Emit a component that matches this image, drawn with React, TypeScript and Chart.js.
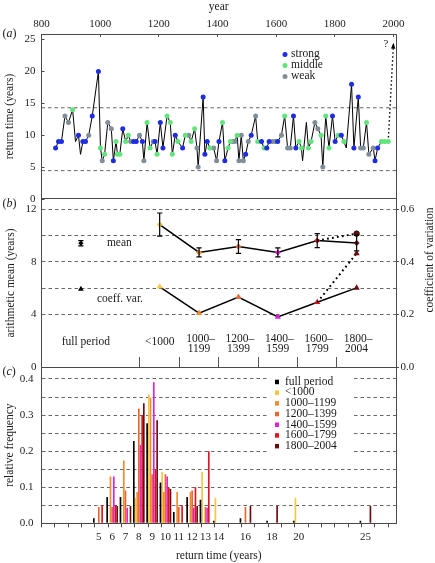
import React, { useEffect, useRef } from 'react';
import { Chart, registerables } from 'chart.js';

Chart.register(...registerables);

const SERIF = '"Liberation Serif", "Times New Roman", "DejaVu Serif", serif';
const W = 435;
const H = 563;
const INK = '#1a1a1a';
const AXIS = '#4a4a4a';
const DASH = '#666';

// ---------- panel (a): return time of each event ----------
const eventYears = [
  848, 858, 868, 880, 892, 906, 916, 926, 933, 941,
  950, 961, 973, 994, 1001, 1007, 1015, 1026, 1038, 1045,
  1054, 1059, 1067, 1077, 1087, 1096, 1104, 1114, 1123, 1134,
  1144, 1149, 1160, 1170, 1181, 1187, 1194, 1205, 1214, 1228,
  1239, 1246, 1256, 1265, 1281, 1290, 1302, 1310, 1322, 1330,
  1334, 1351, 1357, 1365, 1374, 1387, 1397, 1405, 1417, 1425,
  1436, 1444, 1452, 1459, 1467, 1473, 1481, 1488, 1496, 1505,
  1515, 1530, 1537, 1550, 1559, 1568, 1576, 1587, 1597, 1605,
  1618, 1629, 1639, 1648, 1659, 1667, 1678, 1686, 1690, 1703,
  1710, 1719, 1732, 1742, 1753, 1759, 1769, 1780, 1792, 1801,
  1811, 1822, 1831, 1839, 1857, 1865, 1880, 1888, 1897, 1908,
  1916, 1931, 1937, 1946, 1959, 1970, 1982,
];
const eventReturnTimes = [
  8, 9, 9, 13, 12, 14, 9, 10, 7, 9,
  9, 10, 13, 20, 8, 6, 7, 12, 11, 6,
  9, 7, 7, 11, 9, 10, 9, 9, 9, 10,
  9, 6, 12, 8, 9, 9, 7, 12, 8, 13,
  12, 7, 10, 9, 8, 10, 10, 9, 11, 8,
  5, 16, 7, 9, 8, 8, 6, 9, 12, 6,
  8, 9, 9, 9, 10, 6, 10, 6, 7, 9,
  10, 13, 9, 9, 8, 8, 9, 9, 9, 9,
  10, 13, 8, 8, 13, 8, 9, 8, 6, 12,
  8, 9, 12, 11, 10, 5, 13, 8, 13, 9,
  10, 10, 9, 8, 18, 8, 16, 8, 8, 12,
  7, 8, 6, 8, 9, 9, 9,
];
// s = strong, m = middle, w = weak, n = not classified
const eventStrength = [
  'ssswwmnsns', 'swssmwmwws', 'mmmsmmwssw', 'swmmwsmssm', 'mmsmsmwmmw',
  'wsssmwwsms', 'mmwwmwwwsw', 'swmsmsswws', 'wmwwssmmnn', 'mmwwmwmmss',
  'msmnssswwm', 'wwssmmm',
].join('').split('');
const strengthCodes = ['s', 'm', 'w'];
const strengthLabels = ['strong', 'middle', 'weak'];
const strengthColors = ['#1f2de0', '#62e47c', '#7f8e98'];
const referenceLevels = [14.3, 4.45];
const pendingEventYear = 2000;
const pendingEventReturn = 24.5;
const yearTicks = [800, 1000, 1200, 1400, 1600, 1800, 2000];
const returnTicks = [0, 5, 10, 15, 20, 25];
const yearAxisMin = 800;
const yearAxisMax = 2008.5;
const returnAxisMax = 25.86;

// ---------- panel (b): statistics per period ----------
const periodNames = ['<1000', '1000–1199', '1200–1399', '1400–1599', '1600–1799', '1800–2004'];
const periodColors = ['#f6c640', '#f28b2c', '#e8672f', '#e020dc', '#e3121c', '#6a0d0d'];
const periodMeans = [10.84, 8.72, 9.17, 8.72, 9.62, 9.43];
const periodMeanErr = [0.88, 0.34, 0.53, 0.34, 0.53, 0.6];
const periodCV = [0.305, 0.205, 0.266, 0.19, 0.246, 0.301];
const fullPeriodMean = 9.42;
const fullPeriodMeanErr = 0.2;
const fullPeriodCV = 0.296;
const lastPeriodAltMean = 10.15;
const lastPeriodAltCV = 0.432;
const meanTicks = [0, 2, 4, 6, 8, 10, 12];
const meanTickLabels = [0, 4, 8, 12];
const cvTicks = [0, 0.2, 0.4, 0.6];
const FULL_SLOT = 0;
const FIRST_PERIOD_SLOT = 2;

// ---------- panel (c): histogram of return times ----------
const returnTimeBins = [5, 6, 7, 8, 9, 10, 11, 12, 13, 14, 16, 18, 20, 25];
const freqFullPeriod = [0.014, 0.073, 0.073, 0.228, 0.277, 0.113, 0.031, 0.073, 0.065, 0.007, 0.014, 0.007, 0.007, 0.007];
const freqBefore1000 = [null, null, null, 0.071, 0.357, 0.143, null, null, 0.143, 0.071, null, null, 0.071, null];
const freq1000to1199 = [null, 0.13, 0.174, 0.087, 0.348, 0.087, 0.087, 0.087, null, null, null, null, null, null];
const freq1200to1399 = [0.045, 0.045, 0.091, 0.318, 0.136, 0.136, 0.045, 0.091, 0.045, null, 0.045, null, null, null];
const freq1400to1599 = [null, 0.13, 0.043, 0.217, 0.391, 0.13, null, 0.043, 0.043, null, null, null, null, null];
const freq1600to1799 = [0.05, 0.05, null, 0.3, 0.15, 0.1, 0.05, 0.1, 0.2, null, null, null, null, null];
const freq1800to2004 = [null, 0.048, 0.048, 0.333, 0.286, 0.095, null, 0.048, null, null, 0.048, 0.048, null, 0.048];
const histSeriesLabels = ['full period', ...periodNames];
const histSeriesColors = ['#000000', ...periodColors];
const histTickLabels = [5, 6, 7, 8, 9, 10, 11, 12, 13, 14, 16, 18, 20, 25];
const freqTicks = [0, 0.05, 0.1, 0.15, 0.2, 0.25, 0.3, 0.35, 0.4];
const histTickCount = 27;
const histGroupShift = 0.3;

// ---------- layout (pixels) ----------
const PLOT_LEFT = 41.5;
const PLOT_RIGHT = 396;
const A_TOP = 34;
const A_BOTTOM = 199;
const B_BOTTOM = 367;
const C_BOTTOM = 523.3;

Chart.defaults.font.family = SERIF;
Chart.defaults.color = '#222';

const tickFont = { family: SERIF, size: 11 };
const titleFont = { family: SERIF, size: 11.5 };

const setTicks = (values: number[]) => (s: any) => {
  s.ticks = values.map((v) => ({ value: v }));
};

function drawTag(ctx: CanvasRenderingContext2D, letter: string, x: number, y: number) {
  ctx.textBaseline = 'middle';
  ctx.textAlign = 'left';
  ctx.fillStyle = INK;
  ctx.font = `12px ${SERIF}`;
  ctx.fillText('(', x, y);
  let w = ctx.measureText('(').width;
  ctx.font = `italic 12px ${SERIF}`;
  ctx.fillText(letter, x + w, y);
  w += ctx.measureText(letter).width;
  ctx.font = `12px ${SERIF}`;
  ctx.fillText(')', x + w, y);
}

function configA(): any {
  const points = eventYears.map((yr, i) => ({ x: yr, y: eventReturnTimes[i] }));
  const last = points[points.length - 1];
  const strengthSets = strengthCodes.map((code, si) => ({
    type: 'scatter',
    label: strengthLabels[si],
    data: points.filter((_, i) => eventStrength[i] === code),
    backgroundColor: strengthColors[si],
    borderColor: strengthColors[si],
    pointRadius: 2.5,
    pointBorderWidth: 0,
    showLine: false,
    order: 1,
  }));
  const plugin = {
    id: 'panelA',
    afterDraw(chart: any) {
      const { ctx, chartArea: a, scales } = chart;
      ctx.save();
      ctx.strokeStyle = AXIS;
      ctx.lineWidth = 1;
      ctx.beginPath();
      ctx.moveTo(Math.round(a.right) + 0.5, a.top);
      ctx.lineTo(Math.round(a.right) + 0.5, a.bottom);
      ctx.moveTo(a.left, a.bottom - 0.5);
      ctx.lineTo(a.right + 1, a.bottom - 0.5);
      ctx.stroke();
      // arrow head of the pending event
      const x0 = scales.x.getPixelForValue(last.x);
      const y0 = scales.y.getPixelForValue(last.y);
      const x1 = scales.x.getPixelForValue(pendingEventYear);
      const y1 = scales.y.getPixelForValue(pendingEventReturn);
      const ang = Math.atan2(y1 - y0, x1 - x0);
      ctx.fillStyle = '#000';
      ctx.beginPath();
      ctx.moveTo(x1, y1);
      ctx.lineTo(x1 - 6 * Math.cos(ang) + 2.2 * Math.sin(ang), y1 - 6 * Math.sin(ang) - 2.2 * Math.cos(ang));
      ctx.lineTo(x1 - 6 * Math.cos(ang) - 2.2 * Math.sin(ang), y1 - 6 * Math.sin(ang) + 2.2 * Math.cos(ang));
      ctx.closePath();
      ctx.fill();
      ctx.font = `11px ${SERIF}`;
      ctx.textAlign = 'center';
      ctx.textBaseline = 'middle';
      ctx.fillStyle = INK;
      ctx.fillText('?', x1 - 7.5, y1 + 1);
      // legend
      ctx.font = `11.5px ${SERIF}`;
      ctx.textAlign = 'left';
      strengthLabels.forEach((lab, i) => {
        const ly = 54 + i * 11;
        ctx.fillStyle = strengthColors[i];
        ctx.beginPath();
        ctx.arc(285, ly + 0.5, 2.5, 0, Math.PI * 2);
        ctx.fill();
        ctx.fillStyle = INK;
        ctx.fillText(lab, 291, ly);
      });
      drawTag(ctx, 'a', 2.5, 34);
      ctx.restore();
    },
  };
  return {
    type: 'scatter',
    data: {
      datasets: [
        ...strengthSets,
        {
          label: 'events',
          data: points,
          showLine: true,
          borderColor: '#000',
          borderWidth: 1,
          pointRadius: 0,
          tension: 0,
          order: 2,
        },
        ...referenceLevels.map((lev) => ({
          label: 'ref',
          data: [{ x: yearAxisMin, y: lev }, { x: yearAxisMax, y: lev }],
          showLine: true,
          borderColor: DASH,
          borderWidth: 1,
          borderDash: [3.5, 3],
          pointRadius: 0,
          order: 3,
        })),
        {
          label: 'pending',
          data: [last, { x: pendingEventYear, y: pendingEventReturn }],
          showLine: true,
          borderColor: '#000',
          borderWidth: 1.4,
          borderDash: [1.5, 2.5],
          pointRadius: 0,
          order: 2,
        },
      ],
    },
    options: {
      responsive: false,
      animation: false,
      devicePixelRatio: 1,
      events: [],
      layout: { padding: { top: 0, left: 0, right: W - PLOT_RIGHT, bottom: H - A_BOTTOM } },
      plugins: { legend: { display: false }, tooltip: { enabled: false } },
      scales: {
        x: {
          type: 'linear',
          position: 'top',
          min: yearAxisMin,
          max: yearAxisMax,
          bounds: 'data',
          afterFit: (s: any) => { s.height = A_TOP; },
          afterBuildTicks: setTicks(yearTicks),
          ticks: { font: tickFont, padding: 6.4, maxRotation: 0, autoSkip: false, color: '#222', callback: (v: number) => String(v) },
          grid: { drawOnChartArea: false, drawTicks: true, tickLength: -3, color: AXIS },
          border: { display: true, color: AXIS, width: 1 },
          title: { display: true, text: 'year', font: titleFont, padding: { top: 0, bottom: 0 }, color: INK },
        },
        y: {
          type: 'linear',
          position: 'left',
          min: 0,
          max: returnAxisMax,
          bounds: 'data',
          afterFit: (s: any) => { s.width = PLOT_LEFT; },
          afterBuildTicks: setTicks(returnTicks),
          ticks: { font: tickFont, padding: 9, color: '#222', autoSkip: false, callback: (v: number) => String(v) },
          grid: { drawOnChartArea: false, drawTicks: true, tickLength: -3, color: AXIS },
          border: { display: true, color: AXIS, width: 1 },
          title: { display: true, text: 'return time (years)', font: titleFont, padding: { top: 3, bottom: 0 }, color: INK },
        },
      },
    },
    plugins: [plugin],
  };
}

function configB(): any {
  const lastIdx = periodMeans.length - 1;
  const plugin = {
    id: 'panelB',
    afterDatasetsDraw(chart: any) {
      const { ctx, chartArea: a, scales } = chart;
      const { x, y, y2 } = scales;
      ctx.save();
      ctx.strokeStyle = '#000';
      ctx.lineWidth = 1.2;
      const errBar = (slot: number, m: number, e: number) => {
        const px = x.getPixelForValue(slot);
        const t = y.getPixelForValue(m + e);
        const b = y.getPixelForValue(m - e);
        ctx.beginPath();
        ctx.moveTo(px, t); ctx.lineTo(px, b);
        ctx.moveTo(px - 2.6, t); ctx.lineTo(px + 2.6, t);
        ctx.moveTo(px - 2.6, b); ctx.lineTo(px + 2.6, b);
        ctx.stroke();
      };
      errBar(FULL_SLOT, fullPeriodMean, fullPeriodMeanErr);
      periodMeans.forEach((m, i) => errBar(FIRST_PERIOD_SLOT + i, m, periodMeanErr[i]));

      ctx.fillStyle = INK;
      ctx.font = `11.5px ${SERIF}`;
      ctx.textBaseline = 'middle';
      ctx.textAlign = 'left';
      const fx = x.getPixelForValue(FULL_SLOT);
      ctx.fillText('mean', fx + 26, y.getPixelForValue(fullPeriodMean));
      ctx.fillText('coeff. var.', fx + 16, y2.getPixelForValue(fullPeriodCV) + 10);

      ctx.textAlign = 'center';
      ctx.fillText('full period', fx + 5, a.bottom - 25);
      periodNames.forEach((name, i) => {
        const px = x.getPixelForValue(FIRST_PERIOD_SLOT + i);
        const k = name.indexOf('–');
        if (k < 0) {
          ctx.fillText(name, px, a.bottom - 25);
        } else {
          ctx.fillText(name.slice(0, k + 1), px + 1.5, a.bottom - 27.7);
          ctx.fillText(name.slice(k + 1), px, a.bottom - 17.7);
        }
      });

      ctx.save();
      ctx.translate(430, 260);
      ctx.rotate(-Math.PI / 2);
      ctx.textAlign = 'center';
      ctx.fillText('coefficient of variation', 0, 0);
      ctx.restore();

      drawTag(ctx, 'b', 2.5, 204);
      ctx.restore();
    },
  };
  const meanPts = periodMeans.map((m, i) => ({ x: FIRST_PERIOD_SLOT + i, y: m }));
  const cvPts = periodCV.map((c, i) => ({ x: FIRST_PERIOD_SLOT + i, y: c }));
  const separators = periodNames.map((_, i) => FIRST_PERIOD_SLOT + i - 0.5);
  return {
    type: 'scatter',
    data: {
      datasets: [
        {
          label: 'mean', data: meanPts, yAxisID: 'y', showLine: true, borderColor: '#000', borderWidth: 1.5,
          pointStyle: 'rectRot', pointRadius: 3, pointBackgroundColor: periodColors, pointBorderColor: periodColors, pointBorderWidth: 0, order: 2,
        },
        {
          label: 'cv', data: cvPts, yAxisID: 'y2', showLine: true, borderColor: '#000', borderWidth: 1.5,
          pointStyle: 'triangle', pointRadius: 3.6, pointBackgroundColor: periodColors, pointBorderColor: periodColors, pointBorderWidth: 0, order: 2,
        },
        {
          label: 'full mean', data: [{ x: FULL_SLOT, y: fullPeriodMean }], yAxisID: 'y', showLine: false,
          pointStyle: 'rectRot', pointRadius: 2.6, backgroundColor: '#000', borderColor: '#000', pointBorderWidth: 0, order: 1,
        },
        {
          label: 'full cv', data: [{ x: FULL_SLOT, y: fullPeriodCV }], yAxisID: 'y2', showLine: false,
          pointStyle: 'triangle', pointRadius: 3.3, backgroundColor: '#000', borderColor: '#000', pointBorderWidth: 0, order: 1,
        },
        {
          label: 'alt mean', yAxisID: 'y', showLine: true, borderColor: '#000', borderWidth: 2, borderDash: [1.8, 3.2],
          data: [meanPts[lastIdx - 1], { x: FIRST_PERIOD_SLOT + lastIdx, y: lastPeriodAltMean }],
          pointStyle: 'circle', pointRadius: [0, 2.8], pointBackgroundColor: periodColors[lastIdx], pointBorderColor: '#000', pointBorderWidth: 0.6, order: 1,
        },
        {
          label: 'alt cv', yAxisID: 'y2', showLine: true, borderColor: '#000', borderWidth: 2, borderDash: [1.8, 3.2],
          data: [cvPts[lastIdx - 1], { x: FIRST_PERIOD_SLOT + lastIdx, y: lastPeriodAltCV }],
          pointStyle: 'triangle', pointRadius: [0, 3.6], pointBackgroundColor: periodColors[lastIdx], pointBorderColor: periodColors[lastIdx], pointBorderWidth: 0, order: 1,
        },
      ],
    },
    options: {
      responsive: false,
      animation: false,
      devicePixelRatio: 1,
      events: [],
      layout: { padding: { top: A_BOTTOM, left: 0, right: 0, bottom: H - B_BOTTOM } },
      plugins: { legend: { display: false }, tooltip: { enabled: false } },
      scales: {
        x: {
          type: 'linear',
          position: 'bottom',
          min: -1,
          max: 8,
          bounds: 'data',
          afterFit: (s: any) => { s.height = 0; },
          afterBuildTicks: setTicks(separators),
          ticks: { display: false, autoSkip: false },
          grid: { drawOnChartArea: false, drawTicks: true, tickLength: -10, color: '#555' },
          border: { display: true, color: AXIS, width: 1 },
        },
        y: {
          type: 'linear',
          position: 'left',
          min: 0,
          max: (B_BOTTOM - A_BOTTOM) / 13.14,
          bounds: 'data',
          afterFit: (s: any) => { s.width = PLOT_LEFT; },
          afterBuildTicks: setTicks(meanTicks),
          ticks: {
            font: tickFont, padding: 5, color: '#222', autoSkip: false,
            callback: (v: number) => (meanTickLabels.includes(v) ? String(v) : ''),
          },
          grid: {
            drawOnChartArea: true, drawTicks: false, lineWidth: 1,
            color: (c: any) => (c.tick && c.tick.value >= 3 ? DASH : 'rgba(0,0,0,0)'),
          },
          border: { display: true, color: AXIS, width: 1, dash: [3.5, 3] },
          title: { display: true, text: 'arithmetic mean (years)', font: titleFont, padding: { top: 4.5, bottom: 0 }, color: INK },
        },
        y2: {
          type: 'linear',
          position: 'right',
          min: 0,
          max: (B_BOTTOM - A_BOTTOM) / 263.0,
          bounds: 'data',
          afterFit: (s: any) => { s.width = W - PLOT_RIGHT; },
          afterBuildTicks: setTicks(cvTicks),
          ticks: {
            font: tickFont, padding: 1.5, color: '#222', autoSkip: false,
            callback: (v: number) => v.toFixed(1),
          },
          grid: { drawOnChartArea: false, drawTicks: true, tickLength: 3, color: AXIS },
          border: { display: true, color: AXIS, width: 1 },
        },
      },
    },
    plugins: [plugin],
  };
}

function configC(): any {
  const series = [freqFullPeriod, freqBefore1000, freq1000to1199, freq1200to1399, freq1400to1599, freq1600to1799, freq1800to2004];
  const xMin = 1 - histGroupShift;
  const xMax = xMin + (PLOT_RIGHT - PLOT_LEFT) / 13.33;
  const tickValues: number[] = [];
  for (let k = 1; k <= histTickCount; k++) tickValues.push(k - histGroupShift);
  const plugin = {
    id: 'panelC',
    afterDraw(chart: any) {
      const { ctx, chartArea: a } = chart;
      ctx.save();
      ctx.strokeStyle = AXIS;
      ctx.lineWidth = 1;
      ctx.beginPath();
      ctx.moveTo(Math.round(a.right) + 0.5, a.top);
      ctx.lineTo(Math.round(a.right) + 0.5, a.bottom);
      ctx.stroke();
      // legend
      ctx.fillStyle = '#fff';
      ctx.fillRect(268, 374, 84, 79);
      ctx.font = `11.5px ${SERIF}`;
      ctx.textBaseline = 'middle';
      ctx.textAlign = 'left';
      histSeriesLabels.forEach((lab, i) => {
        const ly = 381.7 + i * 10.7;
        ctx.fillStyle = histSeriesColors[i];
        ctx.fillRect(275, ly - 2, 4, 4.5);
        ctx.fillStyle = INK;
        ctx.fillText(lab, 285, ly);
      });
      drawTag(ctx, 'c', 2.5, 372);
      ctx.restore();
    },
  };
  return {
    type: 'bar',
    data: {
      datasets: series.map((arr, si) => ({
        label: histSeriesLabels[si],
        data: arr.map((v, i) => ({ x: returnTimeBins[i], y: v })),
        backgroundColor: histSeriesColors[si],
        borderWidth: 0,
        barPercentage: 1,
        categoryPercentage: 0.875,
      })),
    },
    options: {
      responsive: false,
      animation: false,
      devicePixelRatio: 1,
      events: [],
      layout: { padding: { top: B_BOTTOM, left: 0, right: W - PLOT_RIGHT, bottom: 0 } },
      plugins: { legend: { display: false }, tooltip: { enabled: false } },
      scales: {
        x: {
          type: 'linear',
          position: 'bottom',
          min: xMin,
          max: xMax,
          bounds: 'data',
          offset: false,
          afterFit: (s: any) => { s.height = H - C_BOTTOM; },
          afterBuildTicks: setTicks(tickValues),
          ticks: {
            autoSkip: false, maxRotation: 0, font: tickFont, padding: 2.8, labelOffset: 4, color: '#222',
            callback: (v: number) => {
              const k = Math.round(v + histGroupShift);
              return histTickLabels.includes(k) ? String(k) : '';
            },
          },
          grid: { offset: false, drawOnChartArea: false, drawTicks: true, tickLength: 4, color: AXIS },
          border: { display: true, color: AXIS, width: 1 },
          title: { display: true, text: 'return time (years)', font: titleFont, padding: { top: 0, bottom: 0 }, color: INK },
        },
        y: {
          type: 'linear',
          position: 'left',
          min: 0,
          max: (C_BOTTOM - B_BOTTOM) / 360.75,
          bounds: 'data',
          afterFit: (s: any) => { s.width = PLOT_LEFT; },
          afterBuildTicks: setTicks(freqTicks),
          ticks: {
            font: tickFont, padding: 8, color: '#222', autoSkip: false,
            callback: (v: number) => (Math.abs(v * 10 - Math.round(v * 10)) < 1e-6 ? v.toFixed(1) : ''),
          },
          grid: {
            drawOnChartArea: true, drawTicks: false, lineWidth: 1,
            color: (c: any) => (c.tick && c.tick.value > 0.01 ? DASH : 'rgba(0,0,0,0)'),
          },
          border: { display: true, color: AXIS, width: 1, dash: [3.5, 3] },
          title: { display: true, text: 'relative frequency', font: titleFont, padding: { top: 2.6, bottom: 0 }, color: INK },
        },
      },
    },
    plugins: [plugin],
  };
}

export default function App() {
  const refA = useRef<HTMLCanvasElement>(null);
  const refB = useRef<HTMLCanvasElement>(null);
  const refC = useRef<HTMLCanvasElement>(null);
  useEffect(() => {
    const charts = [
      new Chart(refA.current as HTMLCanvasElement, configA()),
      new Chart(refB.current as HTMLCanvasElement, configB()),
      new Chart(refC.current as HTMLCanvasElement, configC()),
    ];
    return () => charts.forEach((c) => c.destroy());
  }, []);
  const cs: React.CSSProperties = { position: 'absolute', left: 0, top: 0, width: W, height: H };
  return (
    <div style={{ position: 'absolute', left: 0, top: 0, width: W, height: H, background: '#fff' }}>
      <canvas ref={refA} width={W} height={H} style={cs} />
      <canvas ref={refB} width={W} height={H} style={cs} />
      <canvas ref={refC} width={W} height={H} style={cs} />
    </div>
  );
}
